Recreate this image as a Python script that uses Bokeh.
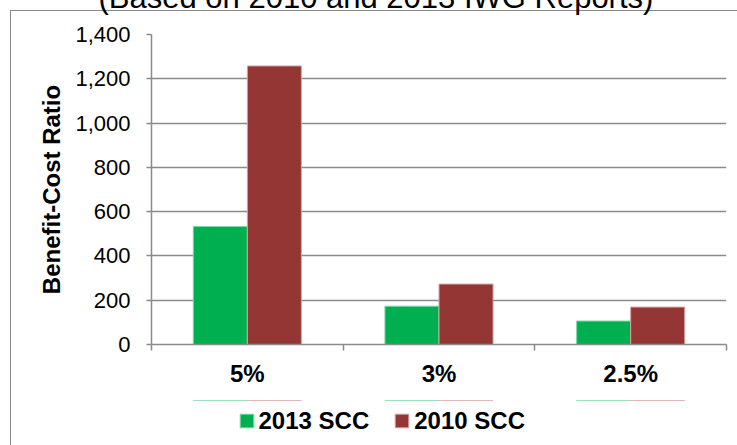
from bokeh.plotting import figure
from bokeh.layouts import column
from bokeh.models import (ColumnDataSource, Range1d, FixedTicker, NumeralTickFormatter,
                          Legend, LegendItem, Title)
from bokeh.transform import dodge
from bokeh.embed import file_html
from bokeh.resources import INLINE

# ---- data ----
categories = ["5%", "3%", "2.5%"]
scc_2013 = [533, 173, 106]
scc_2010 = [1258, 273, 169]
series_names = ["2013 SCC", "2010 SCC"]
y_ticks = [0, 200, 400, 600, 800, 1000, 1200, 1400]
title_text = "(Based on 2010 and 2013 IWG Reports)"
y_label = "Benefit-Cost Ratio"

GREEN = "#00B050"
RED = "#943634"
GRAY = "#8a8a8a"
FONT = "Liberation Sans"

SHIFT = 46      # title area of the canvas that lies above the visible window
MAIN_H = 400    # visible height of the chart part
LEG_H = 45      # visible height of the legend strip

n = len(categories)
centers = [i + 0.5 for i in range(n)]
edges = list(range(n + 1))
source = ColumnDataSource(dict(xc=centers, cat=categories, s2013=scc_2013, s2010=scc_2010))

p = figure(width=737, height=MAIN_H + SHIFT, x_range=Range1d(0, n),
           y_range=Range1d(0, y_ticks[-1]), output_backend="svg", toolbar_location=None,
           min_border_left=151, min_border_right=11,
           min_border_top=34 + SHIFT, min_border_bottom=MAIN_H - 344)
# chart-area border (left and top edges) painted behind the transparent canvas border
p.styles = {
    "background-color": "white",
    "background-image": ("linear-gradient(to right, transparent 10px, #8a8a8a 10px, #8a8a8a 11.5px, transparent 11.5px), "
                         f"linear-gradient(to bottom, transparent {SHIFT + 10}px, #8a8a8a {SHIFT + 10}px, "
                         f"#8a8a8a {SHIFT + 11.5}px, transparent {SHIFT + 11.5}px)"),
    "background-position": f"0px {SHIFT + 10}px, 10px 0px",
    "background-repeat": "no-repeat",
    "background-size": "100% 100%, 100% 100%",
}
p.outline_line_color = None
p.background_fill_color = "white"
p.border_fill_alpha = 0

bar_w = 0.282
r1 = p.vbar(x=dodge("xc", -bar_w / 2), top="s2013", width=bar_w, source=source,
            fill_color=GREEN, line_color="#7fd7a7", line_width=1)
r2 = p.vbar(x=dodge("xc", bar_w / 2), top="s2010", width=bar_w, source=source,
            fill_color=RED, line_color="#d9a3a2", line_width=1)

# y axis
ya = p.yaxis[0]
ya.ticker = FixedTicker(ticks=y_ticks)
ya.formatter = NumeralTickFormatter(format="0,0")
ya.axis_line_color = GRAY
ya.axis_line_width = 1.5
ya.major_tick_line_color = GRAY
ya.major_tick_line_width = 1.5
ya.major_tick_out = 5
ya.major_tick_in = 0
ya.minor_tick_line_color = None
ya.major_label_text_font = FONT
ya.major_label_text_font_size = "22px"
ya.major_label_text_color = "black"
ya.major_label_standoff = 16
ya.axis_label = y_label
ya.axis_label_text_font = FONT
ya.axis_label_text_font_size = "24px"
ya.axis_label_text_font_style = "bold"
ya.axis_label_text_color = "black"
ya.axis_label_standoff = 7

p.ygrid.grid_line_color = GRAY
p.ygrid.grid_line_width = 1.5
p.xgrid.visible = False

# x axis: category labels at centers, tick marks at category boundaries
xa = p.xaxis[0]
xa.ticker = FixedTicker(ticks=centers, minor_ticks=edges)
xa.major_label_overrides = {c: lab for c, lab in zip(centers, categories)}
xa.axis_line_color = GRAY
xa.axis_line_width = 1.5
xa.major_tick_line_color = None
xa.major_tick_out = 6
xa.major_tick_in = 0
xa.minor_tick_line_color = GRAY
xa.minor_tick_line_width = 1.5
xa.minor_tick_out = 6
xa.minor_tick_in = 0
xa.major_label_text_font = FONT
xa.major_label_text_font_size = "24px"
xa.major_label_text_font_style = "bold"
xa.major_label_text_color = "black"
xa.major_label_standoff = 9

title = Title(text=title_text, align="left", offset=-53, standoff=40, vertical_align="bottom",
              text_font=FONT, text_font_size="31px", text_font_style="normal", text_color="black")
p.add_layout(title, "above")

# ---- legend strip below the chart (its frame is aligned with the chart frame) ----
p2 = figure(width=737, height=LEG_H, output_backend="svg", toolbar_location=None,
            x_range=Range1d(0, n), y_range=Range1d(-2, -1),
            x_axis_location=None, y_axis_location=None, min_border=0)
p2.styles = {
    "background-color": "white",
    "background-image": "linear-gradient(to right, transparent 10px, #8a8a8a 10px, #8a8a8a 11.5px, transparent 11.5px)",
}
p2.outline_line_color = None
p2.background_fill_alpha = 0
p2.border_fill_alpha = 0
p2.xgrid.visible = False
p2.ygrid.visible = False
# same series, lying outside this strip's visible range: only their legend swatches show
l1 = p2.vbar(x=dodge("xc", -bar_w / 2), top="s2013", width=bar_w, source=source,
             fill_color=GREEN, line_color="#7fd7a7", line_width=1)
l2 = p2.vbar(x=dodge("xc", bar_w / 2), top="s2010", width=bar_w, source=source,
             fill_color=RED, line_color="#d9a3a2", line_width=1)

legend = Legend(items=[LegendItem(label=series_names[0], renderers=[l1]),
                       LegendItem(label=series_names[1], renderers=[l2])],
                orientation="horizontal", location=(86.5, 10.5),
                glyph_width=17, glyph_height=17, label_standoff=4, spacing=24,
                padding=0, margin=0, border_line_color=None, background_fill_alpha=0,
                label_text_font=FONT, label_text_font_size="24px", label_text_font_style="bold",
                label_text_color="black")
p2.add_layout(legend, "center")

layout = column(p, p2, spacing=0)
layout.styles = {"margin-top": f"-{SHIFT}px"}

open("out.html", "w").write(file_html(layout, INLINE))
